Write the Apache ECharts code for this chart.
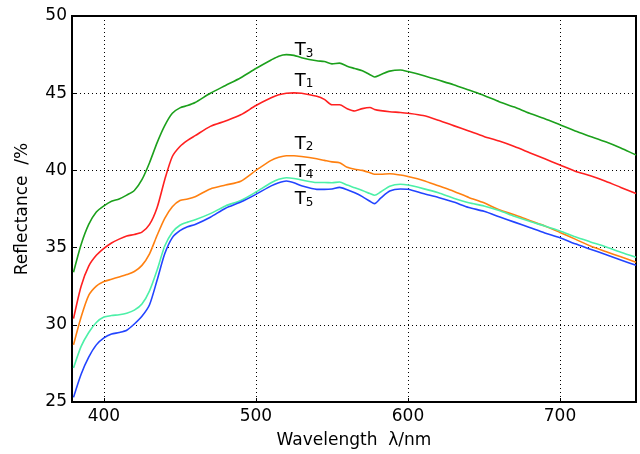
<!DOCTYPE html>
<html>
<head>
<meta charset="utf-8">
<script src="https://cdn.jsdelivr.net/npm/echarts@6/dist/echarts.min.js"></script>
<style>html,body{margin:0;padding:0;background:#fff}#c{width:640px;height:454px}</style>
</head>
<body>
<div id="c"></div>
<script>
var wavelengths = [380,385,390,395,400,405,410,415,420,425,430,435,440,445,450,455,460,470,480,490,500,510,515,520,525,530,540,545,550,555,560,565,570,575,578,582,588,595,600,610,620,630,640,650,660,670,680,690,700,710,720,730,740,750];
var t3 = [33.4,35.2,36.5,37.3,37.7,38.0,38.15,38.4,38.7,39.4,40.5,41.8,42.9,43.7,44.05,44.2,44.4,45.0,45.5,46.0,46.6,47.15,47.4,47.5,47.45,47.3,47.1,47.05,46.9,46.95,46.75,46.6,46.45,46.2,46.05,46.2,46.43,46.5,46.4,46.15,45.85,45.55,45.2,44.85,44.45,44.1,43.7,43.35,42.95,42.55,42.2,41.85,41.45,41.0];
var t1 = [30.4,32.5,33.8,34.5,34.95,35.3,35.55,35.75,35.85,36.0,36.5,37.6,39.4,40.9,41.55,41.95,42.25,42.85,43.2,43.6,44.2,44.7,44.9,45.0,45.02,45.0,44.8,44.6,44.25,44.25,44.0,43.85,44.0,44.07,43.95,43.87,43.8,43.75,43.7,43.55,43.25,42.9,42.55,42.2,41.9,41.55,41.15,40.75,40.35,39.95,39.65,39.3,38.9,38.5];
var t2 = [28.7,30.5,31.9,32.5,32.8,32.95,33.1,33.25,33.45,33.85,34.6,35.8,36.9,37.65,38.05,38.15,38.3,38.8,39.05,39.3,40.0,40.65,40.85,40.95,40.95,40.9,40.75,40.65,40.55,40.5,40.2,40.08,40.0,39.85,39.75,39.75,39.78,39.7,39.6,39.35,39.0,38.65,38.25,37.9,37.45,37.12,36.75,36.4,35.98,35.55,35.1,34.75,34.4,34.05];
var t4 = [27.2,28.6,29.5,30.15,30.5,30.6,30.65,30.75,30.95,31.35,32.2,33.55,35.1,36.0,36.45,36.65,36.8,37.2,37.7,38.05,38.6,39.2,39.42,39.52,39.48,39.38,39.22,39.22,39.2,39.25,39.05,38.88,38.7,38.5,38.39,38.6,38.98,39.1,39.05,38.82,38.55,38.2,37.9,37.7,37.4,37.03,36.7,36.4,36.08,35.7,35.37,35.05,34.7,34.38];
var t5 = [25.3,26.8,27.9,28.7,29.15,29.4,29.5,29.65,30.05,30.55,31.3,32.9,34.6,35.65,36.1,36.35,36.5,36.97,37.55,37.95,38.45,39.0,39.2,39.31,39.2,39.0,38.77,38.77,38.8,38.9,38.75,38.55,38.3,38.0,37.85,38.2,38.66,38.8,38.78,38.5,38.25,37.95,37.6,37.35,37.0,36.65,36.3,35.95,35.64,35.25,34.9,34.55,34.2,33.85];

var seriesNames = ['T3','T1','T2','T4','T5'];
var seriesSubs = ['3','1','2','4','5'];
var seriesColors = ['#1ca01c','#ff2020','#ff8010','#4cf0a8','#2244ff'];
var seriesValues = [t3, t1, t2, t4, t5];
var labelWl = [525.5, 525.5, 525.5, 525.5, 525.5];
var labelVal = [47.75, 45.8, 41.7, 39.9, 38.1];
var yTicks = [25, 30, 35, 40, 45, 50];

var font = 'DejaVu Sans';
var chart = echarts.init(document.getElementById('c'), null, {renderer: 'canvas'});

var series = seriesValues.map(function (vals, i) {
  return {
    name: seriesNames[i],
    type: 'line',
    data: wavelengths.map(function (w, k) { return [w, vals[k]]; }),
    showSymbol: false,
    smooth: 0.25,
    lineStyle: {color: seriesColors[i], width: 1.6},
    itemStyle: {color: seriesColors[i]},
    z: 3,
    markPoint: {
      symbol: 'circle',
      symbolSize: 0,
      silent: true,
      data: [{
        coord: [labelWl[i], labelVal[i]],
        label: {
          show: true,
          position: 'right',
          distance: 0,
          formatter: '{t|T}{s|' + seriesSubs[i] + '}',
          rich: {
            t: {fontFamily: font, fontSize: 18, color: '#000', verticalAlign: 'top', lineHeight: 18},
            s: {fontFamily: font, fontSize: 12, color: '#000', verticalAlign: 'bottom', lineHeight: 12, padding: [10, 0, 0, 0]}
          }
        }
      }]
    }
  };
});

chart.setOption({
  animation: false,
  backgroundColor: '#fff',
  grid: {left: 72, right: 4, top: 16, bottom: 50, show: true, borderColor: '#000', borderWidth: 2, backgroundColor: 'transparent'},
  xAxis: {
    type: 'value',
    min: 379,
    max: 750,
    splitNumber: 4,
    name: 'Wavelength  \u03bb/nm',
    nameLocation: 'middle',
    nameGap: 30,
    nameTextStyle: {fontFamily: font, fontSize: 17, color: '#000'},
    axisLine: {show: true, lineStyle: {color: '#000', width: 2}},
    axisTick: {show: true, inside: true, length: 4, lineStyle: {color: '#000'}},
    axisLabel: {fontFamily: font, fontSize: 17, color: '#000', margin: 6, showMinLabel: false, showMaxLabel: false},
    splitLine: {show: true, lineStyle: {color: '#000', type: [1, 3], width: 1}}
  },
  yAxis: {
    type: 'value',
    min: yTicks[0],
    max: yTicks[yTicks.length - 1],
    interval: 5,
    name: 'Reflectance  /%',
    nameLocation: 'middle',
    nameGap: 41,
    nameTextStyle: {fontFamily: font, fontSize: 17, color: '#000'},
    axisLine: {show: true, lineStyle: {color: '#000', width: 2}},
    axisTick: {show: true, inside: true, length: 4, lineStyle: {color: '#000'}},
    axisLabel: {fontFamily: font, fontSize: 17, color: '#000', margin: 5},
    splitLine: {show: true, lineStyle: {color: '#000', type: [1, 3], width: 1}}
  },
  series: series
});
</script>
</body>
</html>
